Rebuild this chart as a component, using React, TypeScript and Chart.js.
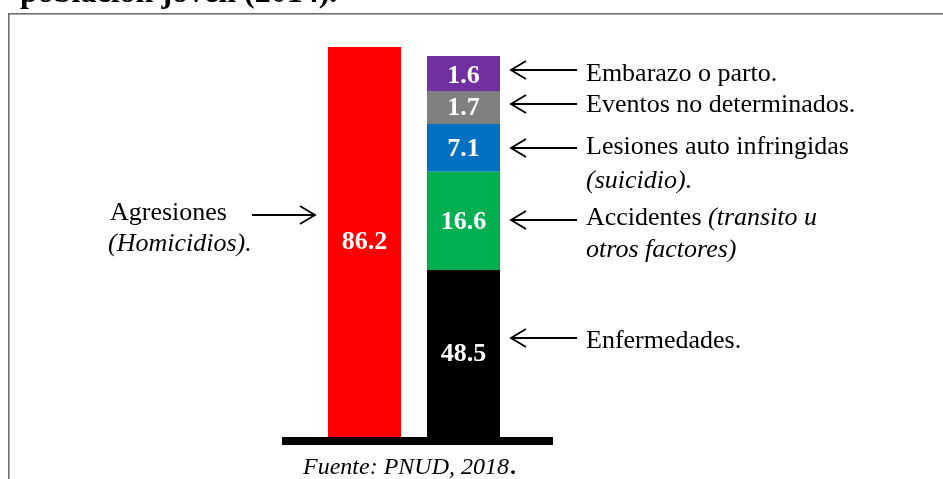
import React, { useEffect, useRef } from "react";
import { Chart, registerables } from "chart.js";

Chart.register(...registerables);

// ---- Data ----
const titleText = "población joven (2014).";
const sourceText = "Fuente: PNUD, 2018";

const homicideLabel = ["Agresiones", "(Homicidios)."];
const homicideValue = 86.2;

// Stack order: bottom -> top
const causeNames = [
  "Enfermedades.",
  "Accidentes",
  "Lesiones auto infringidas",
  "Eventos no determinados.",
  "Embarazo o parto.",
];
const causeValues = [48.5, 16.6, 7.1, 1.7, 1.6];

// The figure is not drawn to scale: apparent segment sizes as drawn,
// measured in units of the red bar (which is drawn as 86.2).
const homicideDrawn = 86.2;
const causeDrawn = [36.9, 21.7, 10.6, 7.3, 7.7];

const categories = ["Agresiones", "Otras causas"];

// ---- Styles ----
const homicideColor = "#ff0000";
const causeColors = ["#000000", "#00b050", "#0070c0", "#808080", "#7030a0"];
const SERIF = '"Liberation Serif", "Times New Roman", serif';

type Seg = { text: string; italic: boolean };
type Ann = { lines: Seg[][]; lineY: number[]; arrowY: number };

const rightAnnotations: Ann[] = [
  { lines: [[{ text: "Embarazo o parto.", italic: false }]], lineY: [74], arrowY: 70 },
  { lines: [[{ text: "Eventos no determinados.", italic: false }]], lineY: [105], arrowY: 104 },
  {
    lines: [
      [{ text: "Lesiones auto infringidas", italic: false }],
      [{ text: "(suicidio).", italic: true }],
    ],
    lineY: [147, 181],
    arrowY: 148,
  },
  {
    lines: [
      [
        { text: "Accidentes ", italic: false },
        { text: "(transito u", italic: true },
      ],
      [{ text: "otros factores)", italic: true }],
    ],
    lineY: [218, 250],
    arrowY: 220,
  },
  { lines: [[{ text: "Enfermedades.", italic: false }]], lineY: [341], arrowY: 338 },
];

function drawArrow(ctx: CanvasRenderingContext2D, x1: number, x2: number, y: number) {
  // tip at x2
  const dir = x2 > x1 ? 1 : -1;
  ctx.save();
  ctx.strokeStyle = "#000";
  ctx.lineWidth = 1.8;
  ctx.beginPath();
  ctx.moveTo(x1, y);
  ctx.lineTo(x2, y);
  ctx.moveTo(x2 - dir * 15, y - 9);
  ctx.lineTo(x2, y);
  ctx.lineTo(x2 - dir * 15, y + 9);
  ctx.stroke();
  ctx.restore();
}

function drawSegs(ctx: CanvasRenderingContext2D, segs: Seg[], x: number, y: number, size: number) {
  let cx = x;
  for (const s of segs) {
    ctx.font = `${s.italic ? "italic " : ""}${size}px ${SERIF}`;
    ctx.fillText(s.text, cx, y);
    cx += ctx.measureText(s.text).width;
  }
}

const overlayPlugin = {
  id: "overlay",
  beforeDraw(chart: any) {
    const ctx: CanvasRenderingContext2D = chart.ctx;
    ctx.save();
    ctx.fillStyle = "#ffffff";
    ctx.fillRect(0, 0, chart.width, chart.height);
    // frame
    ctx.strokeStyle = "#6f6f6f";
    ctx.lineWidth = 1.6;
    ctx.strokeRect(8.8, 13.8, 2000, 2000);
    // title (clipped at top)
    ctx.fillStyle = "#000";
    ctx.textBaseline = "alphabetic";
    ctx.textAlign = "left";
    ctx.font = `bold 32px ${SERIF}`;
    ctx.fillText(titleText, 20, 2);
    ctx.restore();
  },
  afterDatasetsDraw(chart: any) {
    const ctx: CanvasRenderingContext2D = chart.ctx;
    ctx.save();
    const redBar = chart.getDatasetMeta(0).data[0];
    const stackBar = chart.getDatasetMeta(1).data[1];
    const base = chart.scales.y.getPixelForValue(0);

    // base line
    const bl = redBar.x - redBar.width / 2 - 46;
    const br = stackBar.x + stackBar.width / 2 + 53;
    ctx.fillStyle = "#000";
    ctx.fillRect(bl, base, br - bl, 8);

    // value labels
    ctx.fillStyle = "#fff";
    ctx.textAlign = "center";
    ctx.textBaseline = "middle";
    ctx.font = `bold 26px ${SERIF}`;
    const rc = redBar.getCenterPoint();
    ctx.fillText(homicideValue.toFixed(1), rc.x, rc.y);
    causeValues.forEach((v, i) => {
      const el = chart.getDatasetMeta(i + 1).data[1];
      const c = el.getCenterPoint();
      ctx.fillText(v.toFixed(1), c.x, c.y + (i === 4 ? 3 : 1));
    });

    // right annotations
    ctx.fillStyle = "#000";
    ctx.textAlign = "left";
    const arrowTip = stackBar.x + stackBar.width / 2 + 11;
    for (const a of rightAnnotations) {
      drawArrow(ctx, arrowTip + 66, arrowTip, a.arrowY);
      a.lines.forEach((ln, j) => drawSegs(ctx, ln, arrowTip + 75, a.lineY[j], 26));
    }

    // left annotation
    const leftTip = redBar.x - redBar.width / 2 - 13;
    drawArrow(ctx, leftTip - 63, leftTip, 215);
    ctx.font = `26px ${SERIF}`;
    ctx.fillText(homicideLabel[0], 110, 213);
    ctx.font = `italic 26px ${SERIF}`;
    ctx.fillText(homicideLabel[1], 108, 244);

    // source
    ctx.font = `italic 24px ${SERIF}`;
    ctx.fillText(sourceText, 303, 468);
    const w = ctx.measureText(sourceText).width;
    ctx.font = `bold 24px ${SERIF}`;
    ctx.fillText(".", 303 + w + 1, 468);
    ctx.restore();
  },
};

export default function App() {
  const ref = useRef<HTMLCanvasElement | null>(null);
  useEffect(() => {
    if (!ref.current) return;
    const datasets: any[] = [
      {
        label: homicideLabel.join(" "),
        data: [homicideDrawn, null],
        backgroundColor: homicideColor,
        borderWidth: 0,
        stack: "s",
      },
      ...causeNames.map((n, i) => ({
        label: n,
        data: [null, causeDrawn[i]],
        backgroundColor: causeColors[i],
        borderWidth: 0,
        stack: "s",
      })),
    ];
    datasets.forEach((d) => {
      d.barPercentage = 73 / 99;
      d.categoryPercentage = 1;
    });
    const chart = new Chart(ref.current, {
      type: "bar",
      data: { labels: categories, datasets },
      options: {
        animation: false,
        responsive: false,
        devicePixelRatio: 1,
        layout: { padding: { left: 315, right: 430, top: 47, bottom: 42 } },
        plugins: { legend: { display: false }, tooltip: { enabled: false } },
        scales: {
          x: { display: false, stacked: true },
          y: { display: false, stacked: true, min: 0, max: homicideDrawn },
        },
      },
      plugins: [overlayPlugin],
    });
    return () => chart.destroy();
  }, []);
  return (
    <div style={{ position: "fixed", left: 0, top: 0, width: 943, height: 479 }}>
      <canvas ref={ref} width={943} height={479} />
    </div>
  );
}
